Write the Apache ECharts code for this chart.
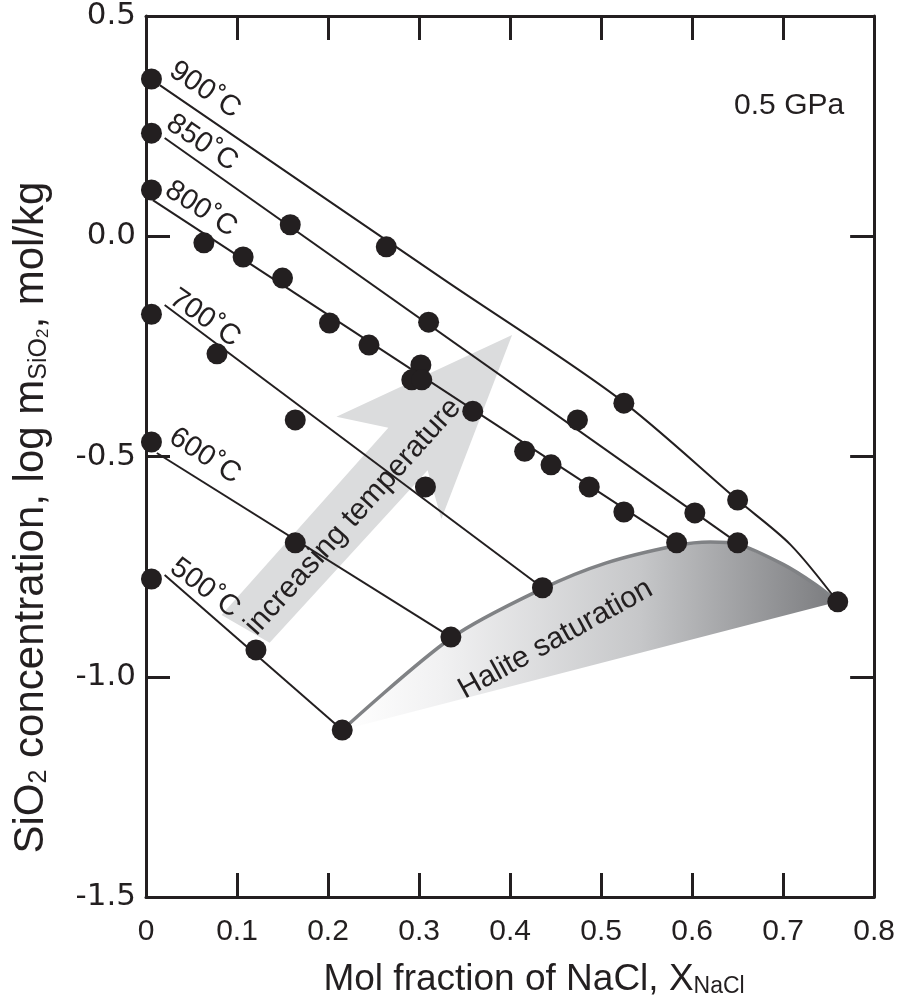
<!DOCTYPE html>
<html><head><meta charset="utf-8">
<script src="https://cdn.jsdelivr.net/npm/echarts@6/dist/echarts.min.js"></script>
<style>html,body{margin:0;padding:0;background:#fff}#c{width:898px;height:1008px}</style>
</head><body><div id="c"></div>
<script>
// ---- axis ticks ----
const xMin = 0, xMax = 0.8, xStep = 0.1;
const yMin = -1.5, yMax = 0.5, yStep = 0.5;

// ---- fitted isotherm lines (X_NaCl, log m) ----
const line900 = [[0.0151,0.343],[0.3278,-0.099],[0.5186,-0.367],[0.650,-0.599],[0.708,-0.700],[0.760,-0.830]];
const line850 = [[0.0205,0.223],[0.650,-0.696]];
const line800 = [[0.0075,0.082],[0.583,-0.696]];
const line700 = [[0.0205,-0.156],[0.4356,-0.798]];
const line600 = [[0.0119,-0.492],[0.335,-0.910]];
const line500 = [[0.0205,-0.769],[0.2156,-1.121]];

// ---- measured points ----
const pts900 = [[0.006,0.357],[0.264,-0.024],[0.525,-0.379],[0.650,-0.599],[0.760,-0.830]];
const pts850 = [[0.006,0.234],[0.1585,0.026],[0.3105,-0.195],[0.474,-0.417],[0.603,-0.628],[0.650,-0.696]];
const pts800 = [[0.006,0.105],[0.0636,-0.015],[0.1067,-0.047],[0.150,-0.095],[0.2016,-0.197],[0.245,-0.247],
                [0.302,-0.292],[0.292,-0.326],[0.303,-0.326],[0.359,-0.397],[0.416,-0.488],[0.445,-0.519],
                [0.487,-0.569],[0.525,-0.626],[0.583,-0.696]];
const pts700 = [[0.006,-0.177],[0.078,-0.267],[0.164,-0.417],[0.307,-0.569],[0.4356,-0.798]];
const pts600 = [[0.006,-0.467],[0.164,-0.696],[0.335,-0.910]];
const pts500 = [[0.006,-0.778],[0.1208,-0.939],[0.2156,-1.121]];

// ---- halite saturation curve ----
const halite = [[0.2156,-1.121],[0.3353,-0.912],[0.4356,-0.800],[0.505,-0.742],[0.583,-0.702],
                [0.620,-0.694],[0.650,-0.699],[0.700,-0.745],[0.735,-0.790],[0.760,-0.830]];

// ---- "increasing temperature" arrow outline ----
const arrow = [[0.0830,-0.860],[0.2663,-0.435],[0.2092,-0.410],[0.4022,-0.224],[0.3245,-0.642],[0.3094,-0.531],[0.1358,-0.923]];

// ---- text annotations ----
const tempNames = ['900˚C','850˚C','800˚C','700˚C','600˚C','500˚C'];
const tempLabelPos = [[0.0647,0.332],[0.0615,0.212],[0.0604,0.062],[0.0647,-0.186],[0.0647,-0.499],[0.0647,-0.799]];
const noteNames = ['0.5 GPa','increasing temperature','Halite saturation'];
const notePos = [[0.7066,0.2957],[0.2275,-0.637],[0.4500,-0.915]];

// styles
const tempAngles = [-34,-34,-33,-35,-33,-37];
const noteAngles = [0,48,29];
const INK = '#231f20';
const FONT = '"Liberation Sans", Arial, Helvetica, sans-serif';

const chart = echarts.init(document.getElementById('c'));

function lineSeries(d){
  return {type:'line', data:d, symbol:'none', smooth: d.length>2 ? 0.3 : false, z:3,
          lineStyle:{color:INK, width:2, opacity:1}, silent:true, animation:false};
}

const allPts = [].concat(pts900,pts850,pts800,pts700,pts600,pts500);

const labelData = tempNames.map((n,i)=>({name:n, value:tempLabelPos[i], label:{rotate:tempAngles[i], fontSize:29}}))
  .concat(noteNames.map((n,i)=>({name:n, value:notePos[i], label:{rotate:noteAngles[i], fontSize: 30}})));

const axisCommon = {
  axisLine:{show:true, onZero:false, lineStyle:{color:INK, width:3}},
  axisTick:{show:true, inside:true, length:24, lineStyle:{color:INK, width:3}},
  splitLine:{show:false}
};

chart.setOption({
  animation:false,
  backgroundColor:'#fff',
  grid:{left:146, right:10, top:16, bottom:111, containLabel:false},
  xAxis:[
    Object.assign({type:'value', position:'bottom', min:xMin, max:xMax, interval:xStep,
      axisLabel:{show:true, margin:20, color:INK, fontSize:30, fontFamily:'"Liberation Sans Narrow", "Liberation Sans", sans-serif',
                 formatter:v=> v===0 ? '0' : String(+v.toFixed(1))},
      name:'Mol fraction of NaCl, X{sub|NaCl}', nameLocation:'middle', nameGap:64,
      nameTextStyle:{color:INK, fontSize:37, fontFamily:FONT, padding:[0,0,0,48],
        rich:{sub:{fontSize:23, lineHeight:8, verticalAlign:'bottom', color:INK, fontFamily:FONT}}}
    }, axisCommon),
    Object.assign({type:'value', position:'top', min:xMin, max:xMax, interval:xStep, axisLabel:{show:false}}, axisCommon)
  ],
  yAxis:[
    Object.assign({type:'value', position:'left', min:yMin, max:yMax, interval:yStep,
      axisLabel:{show:true, margin:10, color:INK, fontSize:31, fontFamily:'"DejaVu Sans", sans-serif',
                 formatter:v=> v.toFixed(1)},
      name:'SiO{sub|2} concentration, log m{sub|SiO}{sub2|2}, mol/kg', nameLocation:'middle', nameGap:94, nameRotate:90,
      nameTextStyle:{color:INK, fontSize:42, fontFamily:FONT, padding:[0,122,0,0],
        rich:{sub:{fontSize:25, lineHeight:8, verticalAlign:'bottom', color:INK, fontFamily:FONT},
              sub2:{fontSize:17, lineHeight:0, verticalAlign:'bottom', color:INK, fontFamily:FONT}}}
    }, axisCommon),
    Object.assign({type:'value', position:'right', min:yMin, max:yMax, interval:yStep, axisLabel:{show:false}}, axisCommon)
  ],
  series:[
    {type:'custom', z:1, silent:true, clip:false, data:[0],
     renderItem:(params, api)=>({type:'polygon', shape:{points: halite.map(p=>api.coord(p))}, style:{
         fill:new echarts.graphic.LinearGradient(0,0,1,0,[
           {offset:0,color:'#ffffff'},{offset:0.2,color:'#f1f1f2'},{offset:0.6,color:'#c6c7c9'},{offset:1,color:'#7a7b7e'}])}})},
    {type:'custom', z:1, silent:true, clip:false, data:[0],
     renderItem:(params, api)=>({type:'polygon', shape:{points: arrow.map(p=>api.coord(p))}, style:{fill:'#dbdcdd'}})},
    lineSeries(line900), lineSeries(line850), lineSeries(line800),
    lineSeries(line700), lineSeries(line600), lineSeries(line500),
    {type:'line', data:halite, symbol:'none', smooth:0.3, z:4, silent:true,
     lineStyle:{color:'#808285', width:3.5}},
    {type:'scatter', data:allPts, symbol:'circle', symbolSize:21, z:5, clip:false, silent:true,
     itemStyle:{color:INK, opacity:1}},
    {type:'scatter', data:labelData, symbolSize:0, z:6, clip:false, silent:true,
     itemStyle:{opacity:1},
     label:{show:true, position:'inside', formatter:p=>p.name, color:INK, fontFamily:FONT}}
  ]
});
</script></body></html>
